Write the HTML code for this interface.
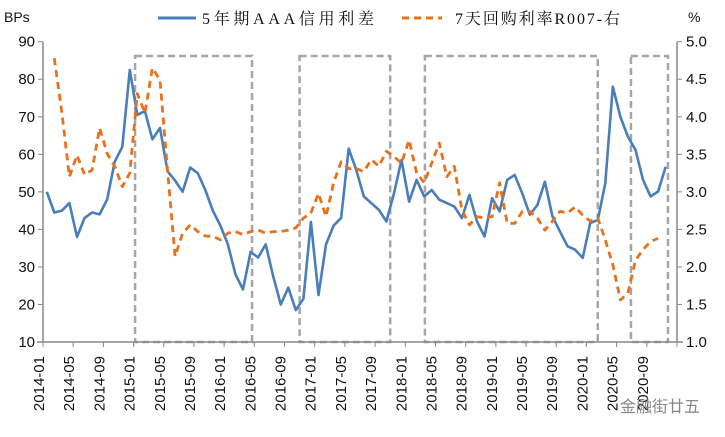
<!DOCTYPE html>
<html><head><meta charset="utf-8"><style>
body{margin:0;background:#fff;width:725px;height:437px;overflow:hidden}
svg{display:block;font-family:"Liberation Sans","Noto Sans CJK SC",sans-serif}
</style></head><body>
<svg id="chart" width="725" height="437" viewBox="0 0 725 437" xmlns="http://www.w3.org/2000/svg">
<g id="boxes"></g>
<g id="axes"></g>
<g id="series"></g>
<g font-family="'Liberation Serif','Noto Serif CJK SC',serif" font-size="16" fill="#111">
<line x1="158" y1="18" x2="196" y2="18" stroke="#4a7ebb" stroke-width="3"/>
<text x="202" y="24" textLength="172" lengthAdjust="spacing">5年期AAA信用利差</text>
<line x1="402" y1="18" x2="442" y2="18" stroke="#e8711c" stroke-width="3" stroke-dasharray="7,5"/>
<text x="455" y="24" textLength="165" lengthAdjust="spacing">7天回购利率R007-右</text>
</g>
<text x="4" y="22" font-size="14" fill="#111">BPs</text>
<text x="688" y="22" font-size="14" fill="#111">%</text>
<text x="620" y="412" font-size="16" fill="#888">金融街廿五</text>
</svg>
<script>
const categories=[];for(let y=2014;y<=2020;y++)for(let m=1;m<=12;m++)categories.push(y+'-'+String(m).padStart(2,'0'));
const spreadValues=[50,44.5,45,47,38,43,44.5,44,48,58,62,82.5,70.5,71.5,64,67,55.5,53,50,56.5,55,50.5,45,41,36,28,24,34,32.5,36,27.5,20,24.5,18.5,21.5,42,22.5,36,41,43,61.5,55.9,48.8,47,45.2,42.1,49.6,58.5,47.4,53.2,48.8,50.5,47.9,47,46.1,43,49.2,42.1,38.1,48.3,44.8,53.2,54.5,49.6,43.9,46.5,52.7,43.4,39.4,35.5,34.6,32.4,41.7,42.5,52.3,78,70,64.7,61.2,53.2,48.8,50.1,56.7];
const r007Values=[null,4.78,4.05,3.2,3.49,3.23,3.29,3.85,3.51,3.34,3.07,3.25,4.31,4.05,4.65,4.49,3.29,2.14,2.45,2.56,2.47,2.41,2.41,2.36,2.45,2.47,2.43,2.47,2.49,2.45,2.47,2.47,2.49,2.52,2.65,2.72,2.98,2.67,3.12,3.4,3.31,3.31,3.27,3.43,3.34,3.54,3.47,3.38,3.69,3.25,3.12,3.38,3.65,3.2,3.34,2.76,2.56,2.67,2.65,2.67,3.12,2.58,2.58,2.74,2.74,2.65,2.49,2.61,2.74,2.72,2.8,2.69,2.61,2.65,2.36,2.03,1.56,1.65,2.09,2.23,2.34,2.38];
const leftTicks=[10,20,30,40,50,60,70,80,90];
const rightTicks=['1.0','1.5','2.0','2.5','3.0','3.5','4.0','4.5','5.0'];
const boxRanges=[[12.2,27.7],[34.0,46.0],[50.6,73.5],[77.9,82.8]];
const NS='http://www.w3.org/2000/svg';
const X0=43,X1=677,Y0=342,Y1=41.7,N=84,W=(X1-X0)/N;
const xs=i=>X0+(i+0.5)*W, xEdge=i=>X0+i*W;
const yL=v=>Y0-(v-10)/80*(Y0-Y1), yR=v=>Y0-(v-1)/4*(Y0-Y1);
function mk(t,a,p){const e=document.createElementNS(NS,t);for(const k in a)e.setAttribute(k,a[k]);p.appendChild(e);return e;}
const ax=document.getElementById('axes');
const la=mk('line',{x1:X0,y1:Y1,x2:X0,y2:Y0,stroke:'#888','stroke-width':1.5},ax);


const ra=mk('line',{x1:X1,y1:Y1,x2:X1,y2:Y0,stroke:'#888','stroke-width':1.5},ax);


const xa=mk('line',{x1:X0-6,y1:Y0,x2:X1+6,y2:Y0,stroke:'#888','stroke-width':1.5},ax);


leftTicks.forEach(v=>{const y=yL(v);
mk('line',{x1:X0-5,y1:y,x2:X0,y2:y,stroke:'#888'},ax);
const t=mk('text',{x:X0-8,y:y+5,'text-anchor':'end','font-size':15,fill:'#111'},ax);t.textContent=v;

});
rightTicks.forEach(v=>{const y=yR(+v);
mk('line',{x1:X1,y1:y,x2:X1+5,y2:y,stroke:'#888'},ax);
const t=mk('text',{x:X1+9,y:y+5,'font-size':15,fill:'#111'},ax);t.textContent=v;

});
for(let i=0;i<=N;i+=4){const x=xEdge(i);mk('line',{x1:x,y1:Y0,x2:x,y2:Y0+5,stroke:'#888'},ax);
if(i<N){const t=mk('text',{transform:`translate(${x+1},${Y0+14}) rotate(-90)`,'text-anchor':'end','font-size':15,fill:'#111'},ax);t.textContent=categories[i];

}}
const bx=document.getElementById('boxes');
boxRanges.forEach(r=>{const b=mk('rect',{x:xEdge(r[0]),y:56,width:xEdge(r[1])-xEdge(r[0]),height:286,fill:'none',stroke:'#a6a6a6','stroke-width':2.5,'stroke-dasharray':'7,4'},bx);

});
const sg=document.getElementById('series');
const p1=spreadValues.map((v,i)=>xs(i).toFixed(1)+','+yL(v).toFixed(1)).join(' ');
const l1=mk('polyline',{points:p1,fill:'none',stroke:'#4a7ebb','stroke-width':2.6,'stroke-linejoin':'round'},sg);


const p2=r007Values.map((v,i)=>v==null?null:xs(i).toFixed(1)+','+yR(v).toFixed(1)).filter(Boolean).join(' ');
const l2=mk('polyline',{points:p2,fill:'none',stroke:'#e8711c','stroke-width':2.8,'stroke-dasharray':'7,5','stroke-linejoin':'round'},sg);


</script>
</body></html>
